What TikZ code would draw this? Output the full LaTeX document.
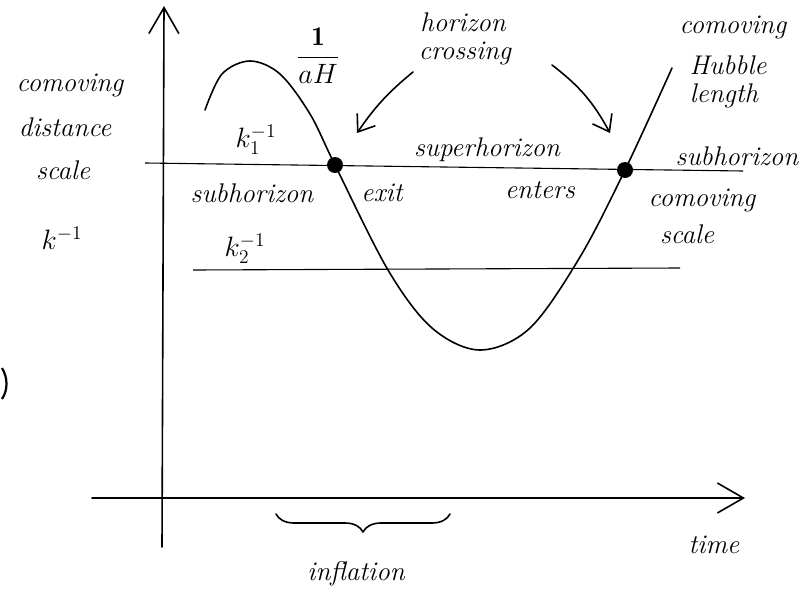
\documentclass[tikz,border=0pt]{standalone}
\usepackage{graphicx}
\usepackage{fontspec}
\usetikzlibrary{arrows.meta,decorations.pathreplacing}
\newcommand{\mymath}[1]{\scalebox{1.35}{\fontsize{20}{24}\selectfont$#1$}}
\begin{document}
\begin{tikzpicture}[x=1pt,y=-1pt,
  hand/.style={line width=1.6pt,line cap=round,line join=round},
  thin line/.style={line width=1.1pt},
  barb/.style={-{Straight Barb[length=15pt,width=22pt,line width=1.6pt]}},
  bigbarb/.style={-{Straight Barb[length=26pt,width=30pt,line width=1.6pt]}},
  lbl/.style={font=\fontsize{27}{30}\selectfont\itshape,inner sep=1pt},
  dotmark/.style={circle,fill=black,inner sep=0pt,minimum size=16pt}]
\useasboundingbox[fill=white] (0,0) rectangle (802,594);
% axes
\coordinate (vbot) at (162,547);
\coordinate (vtop) at (164,6);
\coordinate (hl) at (92,498);
\coordinate (hr) at (745,498);
\draw[hand,bigbarb] (vbot) -- (vtop);
\draw[hand,bigbarb] (hl) -- (hr);
% k lines
\coordinate (k1l) at (145,163);
\coordinate (k1r) at (743,171);
\coordinate (k2l) at (193,270);
\coordinate (k2r) at (680,268);
\draw[thin line] (k1l) -- (k1r);
\draw[thin line] (k2l) -- (k2r);
% comoving Hubble length curve
\draw[hand] plot[smooth,tension=0.55] coordinates {(205,110) (222,74) (250,61) (280,74) (310,114) (335,165) (388,270) (432,328) (480,350) (530,328) (580,257) (625,170) (672,68)};
% crossing dots
\node[dotmark] (d1) at (335,165) {};
\node[dotmark] (d2) at (625,170) {};
% labels
\node[lbl] (frac) at (318,56) {\mymath{\displaystyle\frac{\mathbf{1}}{aH}}};
\node[lbl] (hc1) at (463,22) {horizon};
\node[lbl] (hc2) at (465,53) {crossing};
\node[lbl] (chl1) at (733,27) {comoving};
\node[lbl] (chl2) at (728,65) {Hubble};
\node[lbl] (chl3) at (724,96) {length};
\node[lbl] (cds1) at (70,85) {comoving};
\node[lbl] (cds2) at (65,127) {distance};
\node[lbl] (cds3) at (63,170) {scale};
\node[lbl] (cds4) at (62,238) {\mymath{k^{-1}}};
\node[lbl] (k1) at (256,140) {\mymath{k_1^{-1}}};
\node[lbl] (k2) at (245,249) {\mymath{k_2^{-1}}};
\node[lbl] (sub1) at (252,193) {subhorizon};
\node[lbl] (exit) at (382,193) {exit};
\node[lbl] (super) at (487,150) {superhorizon};
\node[lbl] (enters) at (540,190) {enters};
\node[lbl] (sub2) at (737,156) {subhorizon};
\node[lbl] (cs1) at (702,200) {comoving};
\node[lbl] (cs2) at (687,234) {scale};
\node[lbl] (time) at (714,545) {time};
\node[lbl] (infl) at (356,574) {inflation};
% arrows from horizon crossing
\coordinate (a1s) at (413,72);
\coordinate (a1e) at (357,133);
\coordinate (a2s) at (552,65);
\coordinate (a2e) at (610,133);
\draw[hand,barb] (a1s) to[bend right=8] (a1e);
\draw[hand,barb] (a2s) to[bend left=12] (a2e);
% inflation brace
\coordinate (bl) at (276,514);
\coordinate (br) at (450,514);
\draw[hand,decorate,decoration={brace,mirror,amplitude=18pt,aspect=0.5}] (bl) -- (br);
% stray mark at left edge
\draw[line width=2.2pt] (2,368) .. controls (8,378) and (8,390) .. (2,399);
\end{tikzpicture}
\end{document}
